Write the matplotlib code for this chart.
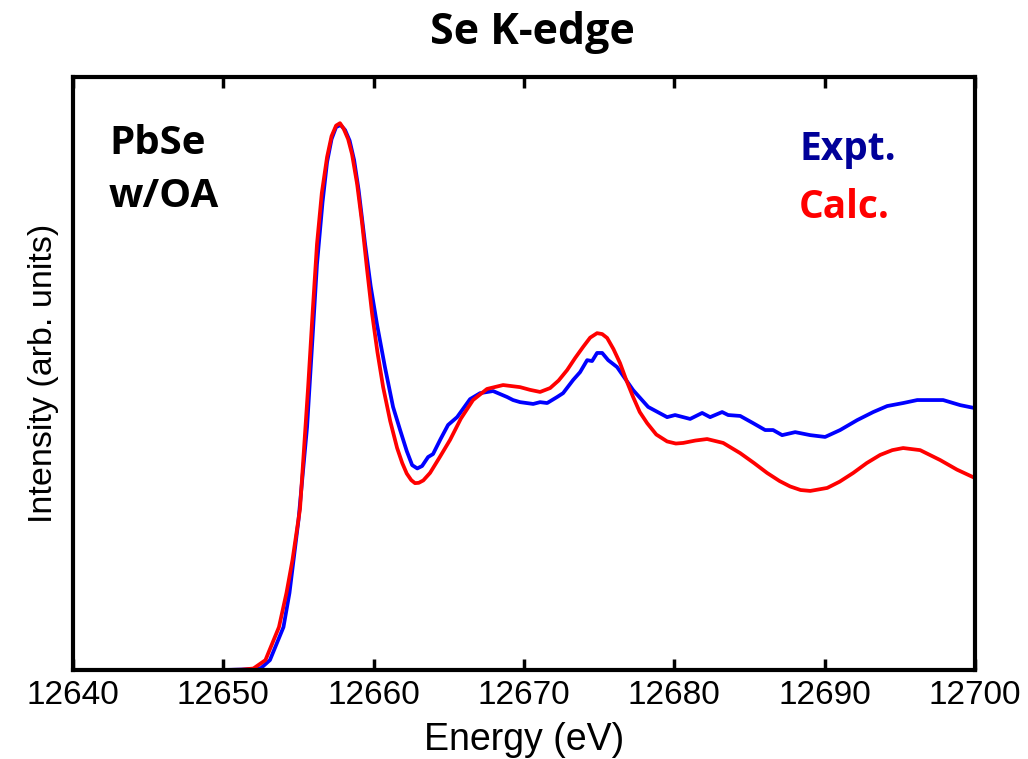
import matplotlib
matplotlib.use("Agg")
import matplotlib.pyplot as plt
from matplotlib import font_manager

# Se K-edge XANES of PbSe nanocrystals with oleic acid: experiment vs calculation
energy_expt = [12646.0, 12650.0, 12651.5, 12652.5, 12653.1, 12654.0, 12654.4, 12655.0,
               12655.57, 12655.9, 12656.23, 12656.6, 12656.9, 12657.2, 12657.5, 12657.8,
               12658.1, 12658.4, 12658.7, 12659.0, 12659.43, 12659.8, 12660.23,
               12660.75, 12661.29, 12661.76, 12662.2, 12662.56, 12662.9, 12663.22,
               12663.62, 12663.95, 12664.45, 12664.95,
               12665.55, 12666.41, 12667.08, 12667.94, 12668.88, 12669.27, 12669.74,
               12670.61, 12671.07, 12671.54, 12672.2, 12672.6, 12673.27, 12673.73,
               12674.2, 12674.53, 12674.86, 12675.2, 12675.6, 12676.19, 12677.26,
               12678.26, 12679.52, 12680.05, 12681.05, 12681.85, 12682.38, 12683.18,
               12683.58, 12684.38, 12685.24, 12686.04, 12686.57, 12687.17, 12688.04,
               12689.04, 12690.03, 12691.03, 12692.16, 12693.23, 12694.16, 12695.22,
               12696.16, 12697.88, 12699.02, 12700.0]
intensity_expt = [0.0, 0.0, 0.002, 0.006, 0.033, 0.143, 0.257, 0.50,
                  0.81, 1.08, 1.353, 1.56, 1.693, 1.77, 1.81, 1.817,
                  1.80, 1.765, 1.70, 1.60, 1.42, 1.28, 1.15,
                  1.01, 0.877, 0.80, 0.73, 0.683, 0.672, 0.68,
                  0.71, 0.72, 0.77, 0.817,
                  0.843, 0.903, 0.923, 0.93, 0.91, 0.90, 0.893,
                  0.887, 0.893, 0.89, 0.91, 0.923, 0.967, 0.993,
                  1.033, 1.03, 1.057, 1.057, 1.033, 1.01, 0.933,
                  0.877, 0.843, 0.85, 0.837, 0.857, 0.843, 0.86,
                  0.85, 0.847, 0.823, 0.80, 0.80, 0.783, 0.793,
                  0.783, 0.777, 0.80, 0.833, 0.86, 0.88, 0.89,
                  0.90, 0.90, 0.883, 0.873]

energy_calc = [12646.0, 12650.0, 12651.2, 12652.0, 12652.8, 12653.7, 12654.2, 12654.6,
               12655.1, 12655.64, 12655.95, 12656.23, 12656.55, 12656.9, 12657.2,
               12657.5, 12657.76, 12658.0, 12658.3, 12658.56, 12658.9, 12659.23,
               12659.55, 12659.89, 12660.25, 12660.63, 12661.1, 12661.56, 12661.9,
               12662.2, 12662.5, 12662.75, 12663.0, 12663.3, 12663.75, 12664.4,
               12665.08, 12665.8, 12666.61, 12667.54, 12668.61, 12669.74, 12670.4,
               12671.07, 12671.74, 12672.3, 12672.87, 12673.4, 12673.93, 12674.4,
               12674.86, 12675.2, 12675.53, 12675.95, 12676.39, 12676.8, 12677.26,
               12677.7, 12678.19, 12678.8, 12679.52, 12680.1, 12680.59, 12681.4,
               12682.18, 12683.25, 12684.38, 12685.3, 12686.17, 12687.0, 12687.7,
               12688.4, 12689.04, 12690.17, 12691.0, 12691.9, 12692.8, 12693.69,
               12694.5, 12695.22, 12696.35, 12697.68, 12698.8, 12700.0]
intensity_calc = [0.0, 0.0, 0.001, 0.005, 0.033, 0.143, 0.257, 0.367,
                  0.537, 0.943, 1.20, 1.42, 1.59, 1.71, 1.78,
                  1.815, 1.823, 1.805, 1.77, 1.72, 1.62, 1.49,
                  1.34, 1.19, 1.06, 0.943, 0.83, 0.74, 0.69,
                  0.655, 0.633, 0.623, 0.624, 0.632, 0.657, 0.71,
                  0.767, 0.838, 0.90, 0.937, 0.95, 0.943, 0.934,
                  0.927, 0.94, 0.965, 1.0, 1.04, 1.077, 1.108,
                  1.123, 1.12, 1.107, 1.07, 1.023, 0.967, 0.91,
                  0.86, 0.823, 0.785, 0.762, 0.755, 0.757, 0.765,
                  0.77, 0.757, 0.723, 0.69, 0.657, 0.63, 0.612,
                  0.600, 0.597, 0.607, 0.628, 0.657, 0.69, 0.717,
                  0.733, 0.74, 0.733, 0.70, 0.668, 0.64]

x_ticks = [12640, 12650, 12660, 12670, 12680, 12690, 12700]


def pick(*names):
    installed = {f.name for f in font_manager.fontManager.ttflist}
    return [n for n in names if n in installed] + ["DejaVu Sans"]


regular = pick("Liberation Sans")
bold_face = pick("Open Sans", "Lato")

fig = plt.figure(figsize=(10.28, 7.59), dpi=100)
ax = fig.add_axes([73 / 1028, 1 - 670 / 759, (975 - 73) / 1028, (670 - 77) / 759])

ax.plot(energy_expt, intensity_expt, color="#0000ff", lw=2.7,
        solid_joinstyle="round", solid_capstyle="round")
ax.plot(energy_calc, intensity_calc, color="#ff0000", lw=2.7,
        solid_joinstyle="round", solid_capstyle="round")

ax.set_xlim(12640, 12700)
ax.set_ylim(0, 1.977)
ax.set_xticks(x_ticks)
ax.set_xticklabels([str(t) for t in x_ticks], family=regular, fontsize=24)
ax.set_yticks([])
ax.tick_params(axis="x", direction="in", top=True, length=8, width=2.5, pad=7)
for s in ax.spines.values():
    s.set_linewidth(3)
    s.set_zorder(5)

ax.set_xlabel("Energy (eV)", family=regular, fontsize=27, labelpad=8)
ax.set_ylabel("Intensity (arb. units)", family=regular, fontsize=24.5, labelpad=10)

fig.text(0.518, 1 - 32 / 759, "Se K-edge", ha="center", va="center",
         family=bold_face, fontweight="bold", fontsize=31)

ax.text(0.04, 0.843, "PbSe\nw/OA", transform=ax.transAxes, ha="left", va="center",
        family=bold_face, fontweight="bold", fontsize=29, linespacing=1.45)
ax.text(0.805, 0.878, "Expt.", transform=ax.transAxes, ha="left", va="center",
        family=bold_face, fontweight="bold", fontsize=28, color="#000099")
ax.text(0.805, 0.78, "Calc.", transform=ax.transAxes, ha="left", va="center",
        family=bold_face, fontweight="bold", fontsize=28, color="#ff0000")

fig.savefig("out.png", dpi=100)
